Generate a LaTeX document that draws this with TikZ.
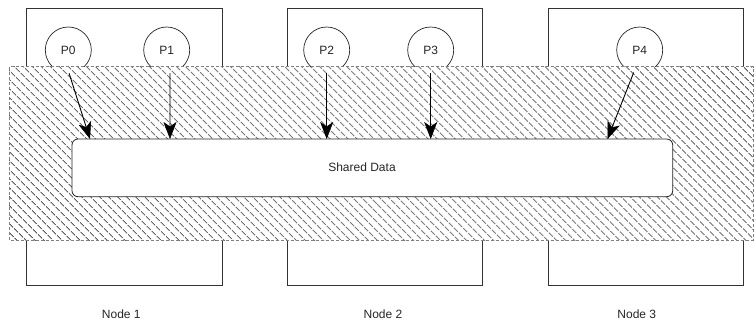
\documentclass[tikz,border=0pt]{standalone}
\usepackage{fontspec}
\setmainfont{Liberation Sans}
\usetikzlibrary{patterns.meta,arrows.meta}
\begin{document}
\begin{tikzpicture}[x=1pt,y=-1pt,
  every node/.style={font=\fontsize{12}{14}\selectfont, text=black!85},
  hostbox/.style={draw=black!80, line width=0.8pt, fill=white},
  proc/.style={draw=black!85, line width=0.7pt, fill=white, circle, minimum size=46pt, inner sep=0pt},
  band/.style={draw=black!50, dash pattern=on 3pt off 2pt, line width=0.8pt, fill=white},
  hatch/.style={pattern={Lines[angle=-45, distance=6.4pt, line width=0.85pt]}, pattern color=black},
  shared/.style={draw=black!85, line width=0.8pt, fill=white, rounded corners=6pt},
  conn/.style={draw=black, line width=0.9pt, -{Stealth[length=17pt, width=13pt, inset=4.5pt, line width=0.5pt]}},
  lbl/.style={inner sep=0pt}]
\useasboundingbox (0,0) rectangle (754,322);
% host boxes
\draw[hostbox] (26,8) rectangle (222,285);
\draw[hostbox] (287,8) rectangle (482.7,285);
\draw[hostbox] (548.3,8) rectangle (743.7,285);
% processes
\node[proc] (p0) at (68.3,50) {P0};
\node[proc] (p1) at (166.7,50) {P1};
\node[proc] (p2) at (326.7,50) {P2};
\node[proc] (p3) at (430.7,50) {P3};
\node[proc] (p4) at (639.7,50) {P4};
% hatched band
\fill[white] (9,66.7) rectangle (753,240);
\fill[hatch] (9,66.7) rectangle (753,240);
\draw[band, fill=none] (9,66.7) rectangle (753,240);
% shared data
\node[shared, minimum width=600.7pt, minimum height=57.7pt, inner sep=0pt] (sd) at (372.35,167.85) {};
\node[lbl] (sdl) at (362,167) {Shared Data};
% arrow tips
\coordinate (t0) at (90,139);
\coordinate (t1) at (170,139);
\coordinate (t2) at (326.7,139);
\coordinate (t3) at (430.7,139);
\coordinate (t4) at (607.5,139);
\draw[conn] (p0.-88) -- (t0);
\draw[conn] (p1.-82) -- (t1);
\draw[conn] (p2.south) -- (t2);
\draw[conn] (p3.south) -- (t3);
\draw[conn] (p4.-105) -- (t4);
% labels
\node[lbl] (n1) at (121.3,314) {Node 1};
\node[lbl] (n2) at (383,314) {Node 2};
\node[lbl] (n3) at (636.8,314) {Node 3};
\end{tikzpicture}
\end{document}
